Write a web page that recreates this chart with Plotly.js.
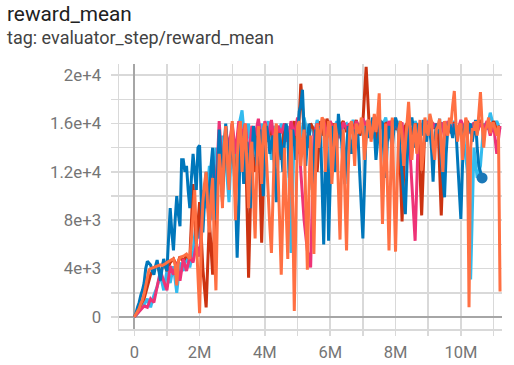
<!DOCTYPE html>
<html>
<head>
<meta charset="utf-8">
<script src="https://cdn.plot.ly/plotly-3.0.1.min.js"></script>
<style>
html,body{margin:0;padding:0;background:#fff;}
#chart{width:514px;height:365px;}
</style>
</head>
<body>
<div id="chart"></div>
<script>
// steps in millions (coarse runs)
const steps = [0,0.1,0.2,0.3,0.4,0.5,0.6,0.7,0.8,0.9,1.0,1.1,1.2,1.3,1.4,1.5,1.6,1.7,1.8,1.9,
2.0,2.1,2.2,2.3,2.4,2.5,2.6,2.7,2.8,2.9,3.0,3.1,3.2,3.3,3.4,3.5,3.6,3.7,3.8,3.9,
4.0,4.1,4.2,4.3,4.4,4.5,4.6,4.7,4.8,4.9,5.0,5.1,5.2,5.3,5.4,5.5,5.6,5.7,5.8,5.9,
6.0,6.1,6.2,6.3,6.4,6.5,6.6,6.7,6.8,6.9,7.0,7.1,7.2,7.3,7.4,7.5,7.6,7.7,7.8,7.9,
8.0,8.1,8.2,8.3,8.4,8.5,8.6,8.7,8.8,8.9,9.0,9.1,9.2,9.3,9.4,9.5,9.6,9.7,9.8,9.9,
10.0,10.1,10.2,10.3,10.4,10.5,10.6,10.7,10.8,10.9,11.0,11.1,11.2];

// steps in millions (fine runs)
const stepsFine = [0,0.05,0.1,0.15,0.2,0.25,0.3,0.35,0.4,0.45,0.5,0.55,0.6,0.65,0.7,0.75,0.8,0.85,0.9,0.95,
1,1.05,1.1,1.15,1.2,1.25,1.3,1.35,1.4,1.45,1.5,1.55,1.6,1.65,1.7,1.75,1.8,1.85,1.9,1.95,
2,2.05,2.1,2.15,2.2,2.25,2.3,2.35,2.4,2.45,2.5,2.55,2.6,2.65,2.7,2.75,2.8,2.85,2.9,2.95,
3,3.05,3.1,3.15,3.2,3.25,3.3,3.35,3.4,3.45,3.5,3.55,3.6,3.65,3.7,3.75,3.8,3.85,3.9,3.95,
4,4.05,4.1,4.15,4.2,4.25,4.3,4.35,4.4,4.45,4.5,4.55,4.6,4.65,4.7,4.75,4.8,4.85,4.9,4.95,
5,5.05,5.1,5.15,5.2,5.25,5.3,5.35,5.4,5.45,5.5,5.55,5.6,5.65,5.7,5.75,5.8,5.85,5.9,5.95,
6,6.05,6.1,6.15,6.2,6.25,6.3,6.35,6.4,6.45,6.5,6.55,6.6,6.65,6.7,6.75,6.8,6.85,6.9,6.95,
7,7.05,7.1,7.15,7.2,7.25,7.3,7.35,7.4,7.45,7.5,7.55,7.6,7.65,7.7,7.75,7.8,7.85,7.9,7.95,
8,8.05,8.1,8.15,8.2,8.25,8.3,8.35,8.4,8.45,8.5,8.55,8.6,8.65,8.7,8.75,8.8,8.85,8.9,8.95,
9,9.05,9.1,9.15,9.2,9.25,9.3,9.35,9.4,9.45,9.5,9.55,9.6,9.65,9.7,9.75,9.8,9.85,9.9,9.95,
10,10.05,10.1,10.15,10.2,10.25,10.3,10.35,10.4,10.45,10.5,10.55,10.6,10.65,10.7,10.75,10.8,10.85,10.9,10.95,
11,11.05,11.1,11.15,11.2];

const cyanRun = [0,300,700,1000,1500,800,1800,2500,3500,2200,3800,2800,4200,2000,4500,3800,5000,4100,5500,8000,
6500,10500,9000,12500,8000,14000,11000,15000,13000,9500,15500,12000,15800,17100,14000,16000,12500,15500,14000,16000,
15000,16200,13000,15800,15000,16000,14500,15800,5300,15500,16000,14800,16500,15200,16000,15000,16300,15500,16000,14800,
16100,15400,16200,15000,15800,16000,15200,16300,15500,16000,15000,16200,15600,16000,15300,16400,15800,16500,15000,16000,
15500,16200,15000,15800,16000,15300,16200,15600,16000,15000,16300,15500,16000,15200,16100,15400,16000,15500,16200,15000,
15800,14500,12000,3100,14000,11500,12500,16000,15500,16900,15800,16200,15500];

const redRun = [0,400,1000,1500,2500,3500,4000,4300,3500,4600,3800,4500,4800,4200,5000,4600,5100,4800,11000,6000,
9500,4000,780,8000,3500,11000,14500,9500,15800,12000,16000,10500,15000,14000,15500,3250,14000,12000,16000,6150,
15500,14500,16200,12500,15800,13000,16000,14500,15000,16200,13500,19300,15500,14000,16000,15500,12000,16200,15000,16400,
15500,16000,14800,15800,16200,15300,16000,15500,16300,15000,16100,20700,15500,16000,14500,16200,15800,16000,15200,16300,
15500,16000,7900,15800,16200,15000,16000,15500,8400,16000,15300,16200,15600,16000,8400,15800,16000,15200,16100,15500,
16000,15300,16200,15500,16000,15200,16300,15500,16000,15400,16200,15500,15800];

const magentaRun = [0,300,600,900,800,1500,1200,2500,3800,3000,2200,4200,3500,4500,3000,4800,3800,5000,4500,6000,
5000,9000,11500,7500,13000,10000,16200,12000,15500,14000,16000,13500,16200,15000,16000,13000,15800,15000,16400,14500,
16200,15000,16300,14000,15800,15200,16000,14500,16200,15000,16500,12000,8000,5500,4100,15000,16000,15400,16300,15000,
16200,15500,16000,14800,16100,15600,16000,15200,16200,15500,16400,15800,16100,15000,16300,15500,16000,15200,16200,15600,
16000,15400,16100,13000,15800,11000,6300,15500,16000,15200,16200,15500,16000,15300,16100,15000,16200,15500,16000,15400,
16300,15600,16000,15200,16100,15400,16000,15500,16200,15000,16000,13500,15800];

const blueRun = [0,300,800,1200,1800,2200,2800,4000,4600,4400,4300,3800,3500,4200,4700,3900,3000,4000,4800,4200,
3800,6500,9000,7000,5500,8000,10000,8500,7500,13000,13000,12000,12500,10500,9000,11500,13500,12000,10500,14000,
14200,10000,7000,9500,12000,10500,9000,12500,14000,11000,8000,12000,15500,13500,11000,14000,16000,14000,12000,13500,
15000,12500,10000,4900,9000,15500,14000,11000,13500,14500,12000,9000,13000,15800,14500,12500,15000,15500,13000,10000,
13500,15800,15000,13500,14500,15000,12000,9500,13000,15200,14000,12000,14500,16000,15000,11500,13500,15500,14500,13000,
15000,17000,17500,18800,15500,12500,14500,16000,13500,10500,13000,15500,15000,14000,15800,11000,6000,12000,15000,6300,
10500,15800,14500,12000,14000,16800,15500,14500,12000,11000,14000,15800,15000,13500,14500,15500,15000,15000,12000,9500,
6500,11000,15800,15500,14800,15500,16500,15500,13000,14500,15500,16200,16000,13000,11500,14500,15800,15000,14000,15500,
16500,16000,15000,13500,12000,10000,8500,12500,15500,16000,16500,15500,14000,15000,16000,15500,15000,16300,15500,14500,
16000,15500,14000,11200,14500,16000,15200,16400,13000,11500,9900,13500,15600,16200,15500,14800,16000,15500,13000,10500,
8100,12500,15500,16200,15000,15800,16000,14500,15500,16300,14000,12500,12000,11500];

const orangeRun = [0,200,500,700,1100,1400,1900,2600,3400,3900,4000,4050,4100,4150,4200,4250,4300,4250,4300,4400,
4500,4600,4700,4750,4800,4300,2600,4600,4900,4950,5000,5100,5200,5000,4800,6500,8800,10500,6500,2500,
300,6000,9500,11000,12000,9000,7000,10000,11500,6000,2200,9000,13500,12000,9000,14000,15800,13000,10500,14500,
16200,12500,8000,13000,15500,16200,12000,14500,16000,12500,9000,13500,14500,10000,6500,12000,15800,14000,11000,15500,
16000,13000,9500,7500,5300,11000,15000,16000,12500,8000,3500,9500,14000,9000,4800,11000,15500,9000,500,8500,
15800,16200,12500,14500,15500,9500,3900,10500,15000,11000,5200,12000,16000,14000,15200,16500,16300,12000,14500,16200,
15800,11000,13500,16000,15000,10500,6400,12500,15500,10000,5500,12000,15700,16200,14800,12500,16000,15500,15200,16500,
15800,13000,14600,16300,16100,14500,15500,16800,15300,16500,18500,14000,7700,12500,16000,11000,5500,11500,16500,10500,
5400,11000,15500,16200,15000,12500,14000,16000,17800,15500,13000,15000,16000,13500,15000,16300,12100,13500,16500,15500,
15000,16800,16200,14000,13000,15500,15800,16400,14000,12000,16200,15500,15000,16500,16000,17500,18700,16000,14500,15800,
16000,13000,15000,16500,16000,800,14000,15500,15500,16200,15000,17000,18600,16000,14000,15500,15800,16500,15200,16000,
16000,15500,15000,15800,2100];

const yTickVals = [0,2000,4000,6000,8000,10000,12000,14000,16000,18000,20000];
const yTickText = ["0","","4e+3","","8e+3","","1.2e+4","","1.6e+4","","2e+4"];
const xTickVals = [0,1,2,3,4,5,6,7,8,9,10,11];
const xTickText = ["0","","2M","","4M","","6M","","8M","","10M",""];

const series = [
  {x: steps, y: cyanRun, color: '#33bbee'},
  {x: steps, y: redRun, color: '#cc3311'},
  {x: steps, y: magentaRun, color: '#ee3377'},
  {x: stepsFine, y: blueRun, color: '#0077bb'},
  {x: stepsFine, y: orangeRun, color: '#ff7043'}
];

const traces = series.map(s => ({
  type: 'scatter', mode: 'lines',
  x: s.x.slice(0, s.y.length), y: s.y,
  line: {color: s.color, width: 3},
  hoverinfo: 'skip'
}));

// end-point marker of the blue run
traces.push({
  type: 'scatter', mode: 'markers',
  x: [stepsFine[blueRun.length - 1]], y: [blueRun[blueRun.length - 1]],
  marker: {color: '#1a78b8', size: 11},
  hoverinfo: 'skip'
});

const gridCol = '#d9d9d9';
const layout = {
  width: 514, height: 365,
  margin: {l: 119, r: 12, t: 64, b: 36, pad: 0},
  paper_bgcolor: '#fff', plot_bgcolor: '#fff',
  showlegend: false,
  font: {family: 'Roboto, sans-serif', color: '#757575', size: 16},
  xaxis: {
    range: [-0.468, 11.26], tickmode: 'array', tickvals: xTickVals, ticktext: xTickText,
    showgrid: true, gridcolor: gridCol, gridwidth: 1.5,
    zeroline: true, zerolinecolor: '#a6a6a6', zerolinewidth: 2,
    showline: true, linecolor: gridCol, linewidth: 1.5,
    ticks: 'outside', ticklen: 5, tickcolor: gridCol, tickwidth: 1.5,
    ticklabelstandoff: 3,
    tickfont: {size: 16.5, color: '#757575'}
  },
  yaxis: {
    range: [-1000, 20930], tickmode: 'array', tickvals: yTickVals, ticktext: yTickText,
    showgrid: true, gridcolor: gridCol, gridwidth: 1.5,
    zeroline: true, zerolinecolor: '#a6a6a6', zerolinewidth: 2,
    showline: true, linecolor: gridCol, linewidth: 1.5,
    ticks: 'outside', ticklen: 7, tickcolor: gridCol, tickwidth: 1.5,
    ticklabelstandoff: 6,
    tickfont: {size: 16.8, color: '#757575'}
  },
  annotations: [
    {text: 'reward_mean', xref: 'paper', yref: 'paper', x: -0.296, y: 1.238,
     xanchor: 'left', yanchor: 'top', showarrow: false, borderpad: 0,
     font: {family: 'Roboto, sans-serif', size: 20.8, color: '#212121'}},
    {text: 'tag: evaluator_step/reward_mean', xref: 'paper', yref: 'paper', x: -0.296, y: 1.143,
     xanchor: 'left', yanchor: 'top', showarrow: false, borderpad: 0,
     font: {family: 'Roboto, sans-serif', size: 18, color: '#424242'}}
  ]
};

Plotly.newPlot('chart', traces, layout, {displayModeBar: false, staticPlot: true});
</script>
</body>
</html>
